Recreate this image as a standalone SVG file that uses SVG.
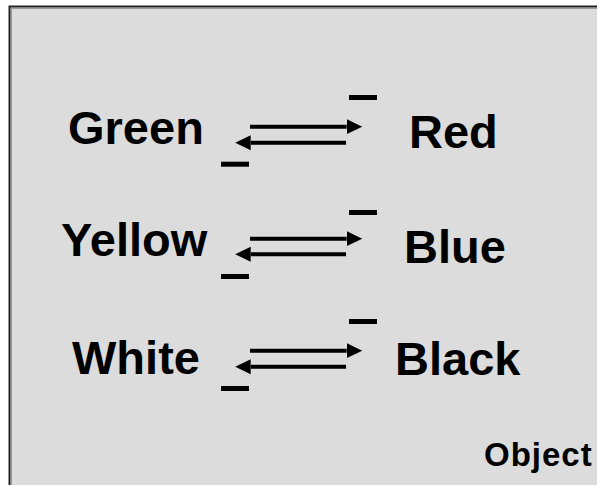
<svg xmlns="http://www.w3.org/2000/svg" width="597" height="485" viewBox="0 0 597 485">
<defs>
<style>
.lbl{font-family:"Liberation Sans",Arial,sans-serif;font-weight:bold;font-size:47px;fill:#000}
.obj{font-family:"Liberation Sans",Arial,sans-serif;font-weight:bold;font-size:33px;letter-spacing:1px;fill:#000}
.ln{stroke:#000;stroke-width:4;fill:none;marker-end:url(#ah)}
.bar{fill:#000}
</style>
<marker id="ah" markerUnits="userSpaceOnUse" markerWidth="16" markerHeight="16" refX="0" refY="7.5" orient="auto" viewBox="0 0 16 15">
<path d="M0,0 L15.5,7.5 L0,15 Z" fill="#000"/>
</marker>
</defs>
<rect x="0" y="0" width="597" height="485" fill="#fff"/>
<rect x="9.5" y="6.5" width="600" height="490" fill="#dcdcdc" stroke="#222" stroke-width="2"/>
<line x1="11.5" y1="9" x2="11.5" y2="485" stroke="#999" stroke-width="1"/>
<line x1="11" y1="8.5" x2="597" y2="8.5" stroke="#999" stroke-width="1"/>

<g id="green"><text class="lbl" x="68" y="144">Green</text></g>
<g id="red"><text class="lbl" x="409" y="148">Red</text></g>
<g id="yellow"><text class="lbl" x="61" y="256">Yellow</text></g>
<g id="blue"><text class="lbl" x="404" y="263">Blue</text></g>
<g id="white"><text class="lbl" x="72" y="374">White</text></g>
<g id="black"><text class="lbl" x="395" y="375">Black</text></g>
<g id="object"><text class="obj" x="484" y="466">Object</text></g>

<g id="connectors">
<line class="ln" x1="250" y1="126.7" x2="346.7" y2="126.7"/>
<line class="ln" x1="346" y1="142.7" x2="250.7" y2="142.7"/>
<line class="ln" x1="250" y1="238.7" x2="346.7" y2="238.7"/>
<line class="ln" x1="346" y1="254.3" x2="250.7" y2="254.3"/>
<line class="ln" x1="250" y1="350.7" x2="346.7" y2="350.7"/>
<line class="ln" x1="346" y1="366.7" x2="250.7" y2="366.7"/>
</g>

<g id="bars">
<rect class="bar" x="349" y="95" width="28" height="5"/>
<rect class="bar" x="221" y="161.7" width="28" height="5"/>
<rect class="bar" x="349" y="210" width="28" height="5"/>
<rect class="bar" x="221" y="274" width="28" height="5"/>
<rect class="bar" x="349" y="319" width="28" height="5"/>
<rect class="bar" x="221" y="386" width="28" height="5"/>
</g>
</svg>
